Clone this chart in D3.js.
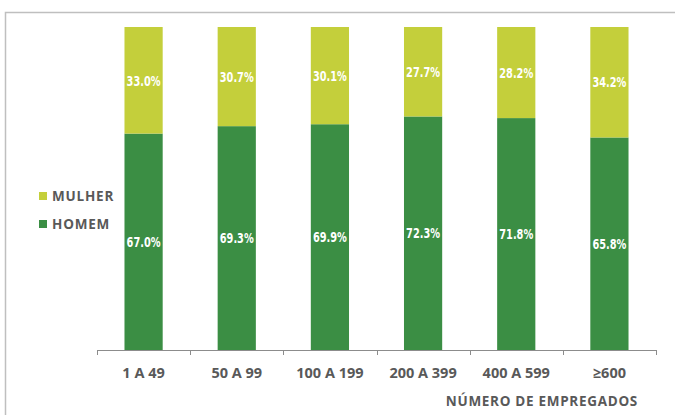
<!DOCTYPE html>
<html>
<head>
<meta charset="utf-8">
<script src="https://cdn.jsdelivr.net/npm/d3@7"></script>
<style>
  html, body { margin: 0; padding: 0; background: #fff; }
  svg { display: block; }
</style>
</head>
<body>
<svg id="chart" width="675" height="415"></svg>
<script>
// Faixas de número de empregados e participação por sexo (%)
const categories = ["1 A 49", "50 A 99", "100 A 199", "200 A 399", "400 A 599", "≥600"];
const homem = [67.0, 69.3, 69.9, 72.3, 71.8, 65.8];
const mulher = [33.0, 30.7, 30.1, 27.7, 28.2, 34.2];
const seriesNames = ["HOMEM", "MULHER"];
const colors = { HOMEM: "#3B8E44", MULHER: "#C4CF3B" };
const axisTitle = "NÚMERO DE EMPREGADOS";

const svg = d3.select("#chart");
const W = 675, H = 415;
const plot = { left: 97, right: 656, top: 27, bottom: 350 };

// moldura
svg.append("path")
  .attr("d", `M5.5,${H} V12.5 H${W}`)
  .attr("fill", "none")
  .attr("stroke", "#BFBFBF")
  .attr("stroke-width", 1.5);

const rows = categories.map((c, i) => ({ cat: c, HOMEM: homem[i], MULHER: mulher[i] }));
const stacked = d3.stack().keys(seriesNames)(rows);

const x = d3.scaleBand().domain(categories).range([plot.left, plot.right]).paddingInner(0.59).paddingOuter(0.295);
const y = d3.scaleLinear().domain([0, 100]).range([plot.bottom, plot.top]);

const labelFont = "'DejaVu Sans', sans-serif";

stacked.forEach(s => {
  const g = svg.append("g");
  g.selectAll("rect").data(s).join("rect")
    .attr("x", d => x(d.data.cat))
    .attr("width", x.bandwidth())
    .attr("y", d => y(d[1]))
    .attr("height", d => y(d[0]) - y(d[1]))
    .attr("fill", colors[s.key]);
  g.selectAll("text").data(s).join("text")
    .attr("x", d => x(d.data.cat) + x.bandwidth() / 2)
    .attr("y", d => (y(d[0]) + y(d[1])) / 2)
    .attr("dy", "0.36em")
    .attr("text-anchor", "middle")
    .attr("fill", "#fff")
    .attr("font-family", labelFont)
    .attr("font-weight", "bold")
    .attr("font-size", 14.5)
    .attr("textLength", 34)
    .attr("lengthAdjust", "spacingAndGlyphs")
    .text(d => (d[1] - d[0]).toFixed(1) + "%");
});

// eixo X
const xAxisScale = d3.scalePoint().domain(d3.range(categories.length + 1)).range([plot.left, plot.right]);
const axis = svg.append("g");
axis.append("line")
  .attr("x1", plot.left).attr("x2", plot.right)
  .attr("y1", plot.bottom + 0.5).attr("y2", plot.bottom + 0.5)
  .attr("stroke", "#8C8C8C").attr("stroke-width", 1);
axis.selectAll("line.tick").data(xAxisScale.domain()).join("line")
  .attr("class", "tick")
  .attr("x1", d => Math.round(xAxisScale(d)) + 0.5).attr("x2", d => Math.round(xAxisScale(d)) + 0.5)
  .attr("y1", plot.bottom).attr("y2", plot.bottom + 5)
  .attr("stroke", "#8C8C8C");

const textFont = "'Open Sans', 'Lato', sans-serif";
axis.selectAll("text").data(categories).join("text")
  .attr("x", d => x(d) + x.bandwidth() / 2)
  .attr("y", 378)
  .attr("text-anchor", "middle")
  .attr("fill", "#595959")
  .attr("font-family", textFont)
  .attr("font-weight", "bold")
  .attr("font-size", 14.5)
  .text(d => d);

svg.append("text")
  .attr("x", 638).attr("y", 406)
  .attr("text-anchor", "end")
  .attr("fill", "#595959")
  .attr("font-family", textFont)
  .attr("font-weight", "bold")
  .attr("font-size", 13.5)
  .attr("letter-spacing", 0.7)
  .text(axisTitle);

// legenda
const legendItems = ["MULHER", "HOMEM"];
const lg = svg.append("g");
legendItems.forEach((k, i) => {
  const cy = 196 + i * 28;
  lg.append("rect").attr("x", 39).attr("y", cy - 4).attr("width", 8).attr("height", 8).attr("fill", colors[k]);
  lg.append("text")
    .attr("x", 52).attr("y", cy).attr("dy", "0.36em")
    .attr("fill", "#595959")
    .attr("font-family", textFont)
    .attr("font-weight", "bold")
    .attr("font-size", 13.5)
    .attr("letter-spacing", 0.8)
    .text(k);
});
</script>
</body>
</html>
